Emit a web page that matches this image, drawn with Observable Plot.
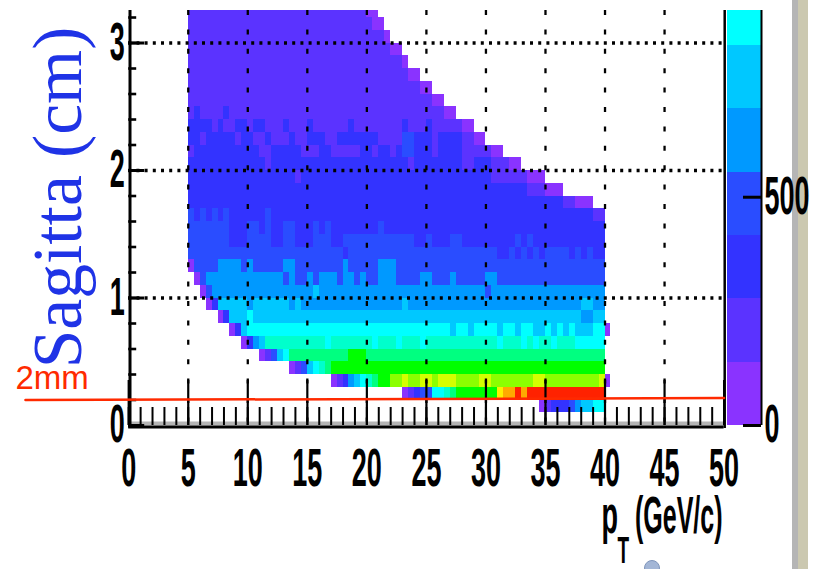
<!DOCTYPE html>
<html>
<head>
<meta charset="utf-8">
<script src="https://cdn.jsdelivr.net/npm/d3@7"></script>
<script src="https://cdn.jsdelivr.net/npm/@observablehq/plot@0.6"></script>
<style>
  html, body { margin: 0; padding: 0; background: #ffffff; }
  #chart { position: relative; width: 822px; height: 569px; overflow: hidden; background: #fff; }
  #chart > svg { position: absolute; left: 0; top: 0; }
  .strip { position: absolute; top: 0; height: 569px; }
</style>
</head>
<body>
<div id="chart">
  <div class="strip" style="left:792px;width:6px;background:#b5b5b5"></div>
  <div class="strip" style="left:798px;width:10px;background:#cbc8b0"></div>
  <div style="position:absolute;left:644px;top:560px;width:16px;height:16px;border-radius:50%;background:#a3b6d6;border:1px solid #7f95bb;box-sizing:border-box"></div>
</div>
<script>
// ---------------- data ----------------
// 2D histogram: pT bins of 0.5 GeV/c starting at 5, sagitta bins of 0.1 cm.
const ptBinStart = 5;
const ptBinWidth = 0.5;
const sagBinWidth = 0.1;
// ROOT colour contours: each level spans this many entries
const contourStep = 138.7;
const levelCodes = "123456789abcdefg";
const levelColors = ["#8a33ff","#5b33ff","#3333ff","#2a4dff","#0099ff","#00c8ff","#00ffff","#00ffcc",
                     "#00ff80","#00ff00","#8cff00","#d4ff00","#ffee00","#ffcc00","#ffaa00","#ff2200"];
// sagitta row j covers [0.1*j, 0.1*(j+1)]
const rowIndex = [1,2,3,4,5,6,7,8,9,10,11,12,13,14,15,16,17,18,19,20,21,22,23,24,25,26,27,28,29,30,31,32];
// first filled pT bin of each row
const rowStartBin = [59,36,24,17,12,9,7,5,3,2,1,0,0,0,0,0,0,0,0,0,0,0,0,0,0,0,0,0,0,0,0,0];
// contour level of each bin, run-length coded ("code:count")
const rowRuns = [
  "1 2 3:3 4 5 6:2 7:2",
  "1 2 3 4:2 7:2 8 9 a:7 d f:2 g f g:13",
  "1 2 3 5 6 7 8 9 a:2 b:2 c b:2 c:2 b c:3 b:4 c:2 b:7 c:2 b:9 c 1",
  "1 2 4 6 7 8 9 a:46",
  "1 2 4 6 7 9:10 a:3 9:40",
  "1 3 5 6 8:10 7 8:7 7 8:3 7 8:3 7 8:12 7 8:3 7 8 7 8:2 7 8:3 7:5",
  "1 3 6 7:34 6 7:2 6 7:4 6 7:2 6 7:2 6:2 7 6 7 6 7 6:3 7:2 1",
  "1 3 6:3 7 6:55 5:2 6:2",
  "1 3 6:5 5 6:6 5 6 5:17 6 5:29 6:2 5:2",
  "1 4 5:17 6 5:28 4 5:19",
  "1 4 5:13 4 5 4:2 5 4 5:3 4 5:2 4 5 4:2 5:3 4:4 5:2 4:3 5 4:5 5:2 4:18",
  "1 4:4 5:4 4 5 4:5 5:2 4:8 5 4:5 5:3 4:35",
  "4:26 3 4:25 3:2 4 3 4 3 4 3 4:4 3 4 3 4 3:2",
  "4:7 3:3 4:4 3:2 4:2 3:3 4:3 3:2 4:12 3:2 4 3:3 4:2 3:9 4 3 4 3:12",
  "4:7 3:3 4:2 3 4 3:2 4:2 3:3 4 3 4 3:8 4 3:37",
  "4 3 4 3 4 3 4 3:6 4 3:54 2:2",
  "3:63 2:2 1:3",
  "3:57 2:3 1:3",
  "3:18 2 3:32 2:6 1:3",
  "3:13 2 3:23 2 3:8 2:2 3:3 2:3 1:2",
  "2 3:11 2:2 3:5 2:3 3:2 2:5 3:2 2 3:2 2 3 4:2 3:3 2 3:4 2:5 1:2",
  "3:2 2 3:5 2 3:2 2:2 3 2:3 3 2:2 3:3 2:2 3:7 2:4 4:2 3:3 2 3:4 2:2 1:2",
  "3:4 2 3 2:2 3:2 2 3:2 2:3 3 2:3 3 2:6 3 2:8 3 2:3 3 2:5 1:2",
  "2 3 2:4 3 2:36 1:2",
  "2:41 1:2",
  "2:39 1:2",
  "2:37 1:2",
  "2:36 1",
  "2:34 1:2",
  "2:33 1",
  "2:31 1:2",
  "2:30 1:2"
];
const xTickValues = [0,5,10,15,20,25,30,35,40,45,50];
const xGridValues = [5,10,15,20,25,30,35,40,45];
const yTickValues = [0,1,2,3];
const yGridValues = [1,2,3];
const zTickValues = [0,500];
const colorbarLevels = [0,1,2,3,4,5,6];
const redLine = [{pt:-8.67, s:0.2},{pt:50, s:0.215}];

// ---------------- build table ----------------
function expandRuns(str) {
  const out = [];
  str.trim().split(/\s+/).forEach(tok => {
    const [c, n] = tok.split(":");
    const count = n ? +n : 1;
    for (let i = 0; i < count; i++) out.push(c);
  });
  return out;
}
const cells = [];
rowIndex.forEach((j, r) => {
  expandRuns(rowRuns[r]).forEach((code, i) => {
    const k = rowStartBin[r] + i;
    const lvl = levelCodes.indexOf(code);
    cells.push({
      pt0: ptBinStart + k * ptBinWidth,
      pt1: ptBinStart + (k + 1) * ptBinWidth,
      s0: j * sagBinWidth,
      s1: (j + 1) * sagBinWidth,
      entries: (lvl + 0.5) * contourStep
    });
  });
});

// ---------------- layout ----------------
const W = 822, H = 569;
const L = 128.2, R = 723.6, T = 10, B = 425;
const frameW = R - L, frameH = B - T;
const sMax = 3.255, zMax = 909;
const colorScale = {
  type: "threshold",
  domain: levelColors.slice(1).map((_, i) => (i + 1) * contourStep),
  range: levelColors
};
const tickFont = "Liberation Sans, Arial, Helvetica, sans-serif";
// marker colours for the vertically stretched ROOT-style labels
const INK1 = "#010101", INK2 = "#020202";
const stretchBy = {[INK1]: 1.96, [INK2]: 2.1};
const xMinor = d3.range(0, 51, 1);
const yMinor = d3.range(0, 3.3, 0.2);

const main = Plot.plot({
  width: W, height: H,
  marginLeft: L, marginRight: W - R, marginTop: T, marginBottom: H - B,
  style: {background: "none", overflow: "visible"},
  x: {domain: [0, 50], axis: null},
  y: {domain: [0, sMax], axis: null},
  color: colorScale,
  marks: [
    Plot.rect(cells, {x1: "pt0", x2: "pt1", y1: "s0", y2: "s1", fill: "entries", clip: true, shapeRendering: "crispEdges"}),
    Plot.ruleX(xGridValues, {stroke: "#000", strokeWidth: 2.3, strokeDasharray: "5,14.4"}),
    Plot.ruleY(yGridValues, {stroke: "#000", strokeWidth: 3.5, strokeDasharray: "3,5.2"}),
    Plot.ruleY([0], {stroke: "#b4b4b4", strokeWidth: 4, dy: -2}),
    Plot.ruleX(xMinor, {stroke: "#000", strokeWidth: 2, insetTop: frameH - 18}),
    Plot.ruleX(xTickValues, {stroke: "#000", strokeWidth: 2.2, insetTop: frameH - 45}),
    Plot.ruleY(yMinor, {stroke: "#000", strokeWidth: 2.6, insetRight: frameW - 8}),
    Plot.ruleY(yTickValues, {stroke: "#000", strokeWidth: 3, insetRight: frameW - 16}),
    Plot.ruleY([0], {stroke: "#000", strokeWidth: 3, dy: 1.5}),
    Plot.ruleX([0], {stroke: "#000", strokeWidth: 3, dx: 1.3, insetBottom: -3}),
    Plot.ruleX([50], {stroke: "#000", strokeWidth: 2.5, dx: 0.6, insetBottom: -3}),
    Plot.text(xTickValues, {x: d => d, text: d => `${d}`, frameAnchor: "bottom", lineAnchor: "bottom", dy: 60,
      fontSize: 27, fontWeight: "bold", fontFamily: tickFont, fill: INK1}),
    Plot.text(yTickValues, {y: d => d, text: d => `${d}`, frameAnchor: "left", textAnchor: "end", lineAnchor: "middle", dx: -4,
      fontSize: 27, fontWeight: "bold", fontFamily: tickFont, fill: INK1}),
    Plot.text(["Sagitta (cm)"], {text: d => d, frameAnchor: "left", rotate: -90, dx: -48, dy: -20.5,
      lineAnchor: "bottom", textAnchor: "middle", fontSize: 69.5, fontFamily: "Liberation Serif, Times New Roman, serif", fill: "#1f33e6"}),
    Plot.text(["p"], {text: d => d, frameAnchor: "bottom-left", dx: 601 - L, dy: 107, textAnchor: "start", lineAnchor: "bottom",
      fontSize: 27, fontWeight: "bold", fontFamily: tickFont, fill: INK1}),
    Plot.text(["T"], {text: d => d, frameAnchor: "bottom-left", dx: 617 - L, dy: 137, textAnchor: "start", lineAnchor: "bottom",
      fontSize: 19, fontWeight: "bold", fontFamily: tickFont, fill: INK1}),
    Plot.text(["(GeV/c)"], {text: d => d, frameAnchor: "bottom-right", dx: -1.6, dy: 107, textAnchor: "end", lineAnchor: "bottom",
      fontSize: 25, fontWeight: "bold", fontFamily: tickFont, fill: INK2}),
    Plot.text(["2mm"], {text: d => d, frameAnchor: "bottom-left", dx: 15 - L, dy: -37, textAnchor: "start", lineAnchor: "bottom",
      fontSize: 33, fontFamily: "Liberation Sans, Arial, sans-serif", fill: "#ff2a00"}),
    Plot.line(redLine, {x: "pt", y: "s", stroke: "#ff2a00", strokeWidth: 2.5})
  ]
});

const bar = Plot.plot({
  width: W, height: H,
  marginLeft: 727, marginRight: W - 761, marginTop: T, marginBottom: H - B,
  style: {background: "none", overflow: "visible"},
  x: {domain: [0, 1], axis: null},
  y: {domain: [0, zMax], axis: null},
  color: colorScale,
  marks: [
    Plot.rect(colorbarLevels, {x1: 0, x2: 1, y1: d => d * contourStep, y2: d => (d + 1) * contourStep,
      fill: d => (d + 0.5) * contourStep, clip: true, shapeRendering: "crispEdges"}),
    Plot.ruleX([1], {stroke: "#000", strokeWidth: 2}),
    Plot.ruleY(zTickValues, {x1: 0.47, x2: 1, stroke: "#000", strokeWidth: 3}),
    Plot.text(zTickValues, {y: d => d, text: d => `${d}`, frameAnchor: "right", dx: 3, textAnchor: "start", lineAnchor: "middle",
      fontSize: 27, fontWeight: "bold", fontFamily: tickFont, fill: INK1})
  ]
});

// ROOT-style labels in the reference are stretched vertically
function stretch(svg) {
  d3.select(svg).selectAll("text").each(function () {
    const g = this.closest("g");
    const fill = (this.getAttribute("fill") || (g && g.getAttribute("fill")) || "").toLowerCase();
    const k = stretchBy[fill];
    if (!k) return;
    const t = this.getAttribute("transform") || "";
    this.setAttribute("transform", `${t} scale(1,${k})`);
  });
}
stretch(main);
stretch(bar);

document.getElementById("chart").append(main, bar);
</script>
</body>
</html>
